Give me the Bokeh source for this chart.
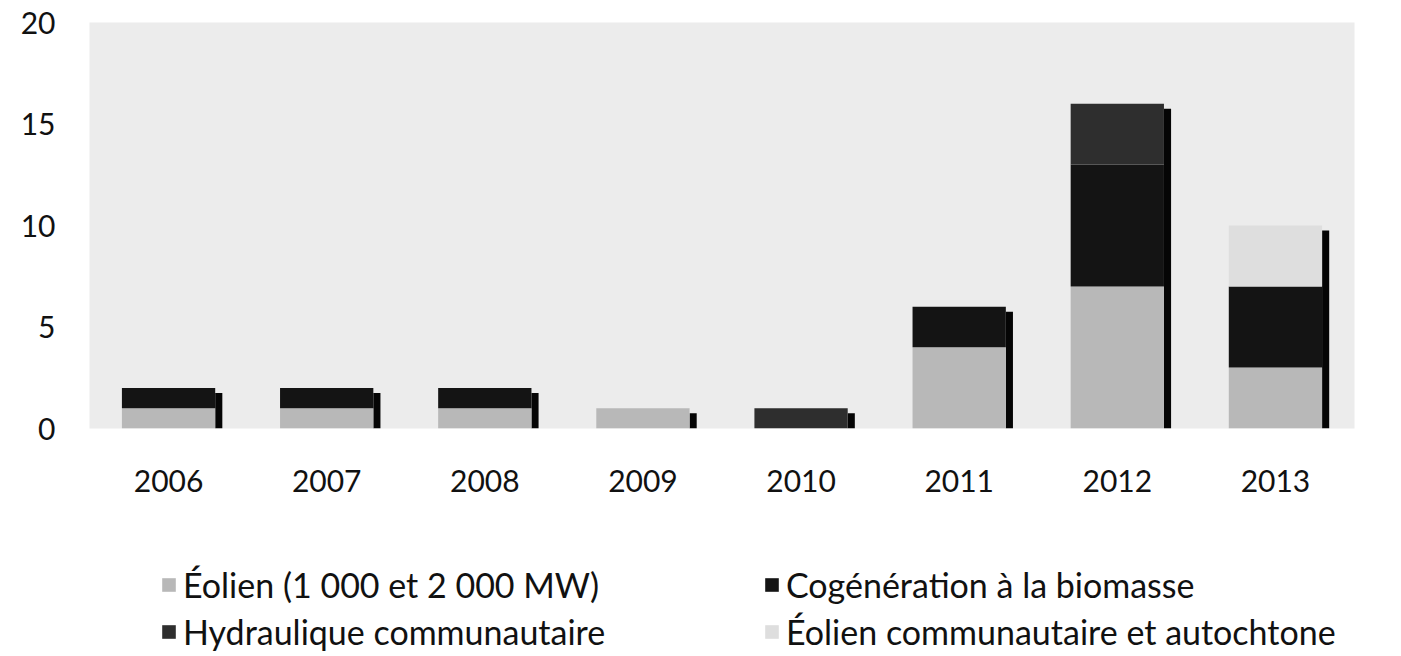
from bokeh.plotting import figure
from bokeh.models import ColumnDataSource, Legend, LegendItem, FactorRange
from bokeh.layouts import column
from bokeh.transform import dodge
from bokeh.embed import file_html
from bokeh.resources import INLINE

years = ["2006", "2007", "2008", "2009", "2010", "2011", "2012", "2013"]
eolien = [1, 1, 1, 1, 0, 4, 7, 3]
cogeneration = [1, 1, 1, 0, 0, 2, 6, 4]
hydraulique = [0, 0, 0, 0, 1, 0, 3, 0]
eolien_comm = [0, 0, 0, 0, 0, 0, 0, 3]

series_names = ["Éolien (1 000 et 2 000 MW)", "Cogénération à la biomasse",
                "Hydraulique communautaire", "Éolien communautaire et autochtone"]
series_keys = ["eolien", "cogen", "hydro", "eolcomm"]
colors = ["#b8b8b8", "#141414", "#2e2e2e", "#dedede"]

data = {"years": years, "eolien": eolien, "cogen": cogeneration,
        "hydro": hydraulique, "eolcomm": eolien_comm}
totals = [a + b + c + d for a, b, c, d in zip(eolien, cogeneration, hydraulique, eolien_comm)]
data["shadow_top"] = [t - 0.25 if t > 0 else 0 for t in totals]
source = ColumnDataSource(data)

FONT = "Lato"
W = 1385

p = figure(x_range=FactorRange(*years), y_range=(0, 20),
           width=W, height=520, output_backend="svg", toolbar_location=None,
           min_border_left=89, min_border_right=31, min_border_top=22,
           min_border_bottom=92)
p.frame_align = False
p.background_fill_color = "#ececec"
p.border_fill_color = "white"
p.outline_line_color = None
p.xgrid.grid_line_color = None
p.ygrid.grid_line_color = None
p.x_range.range_padding = 0

# shadow bars
p.vbar(x=dodge("years", 0.3175, range=p.x_range), top="shadow_top", bottom=0,
       width=0.045, source=source, fill_color="#050505", line_color=None)

p.vbar_stack(series_keys, x="years", width=0.59, source=source,
             color=colors, line_color=None)

p.yaxis.ticker = [0, 5, 10, 15, 20]
for ax in (p.xaxis[0], p.yaxis[0]):
    ax.axis_line_color = None
    ax.major_tick_line_color = None
    ax.minor_tick_line_color = None
    ax.major_tick_out = 0
    ax.minor_tick_out = 0
    ax.major_label_text_font = FONT
    ax.major_label_text_font_size = "30px"
    ax.major_label_text_color = "#111111"
p.yaxis.major_label_standoff = 34
p.xaxis.major_label_standoff = 41

# legend panel (separate figure so the legend is not clipped by the chart frame)
q = figure(x_range=FactorRange(*years), y_range=(100, 200),
           width=W, height=136, output_backend="svg", toolbar_location=None,
           x_axis_type=None, y_axis_type=None,
           min_border_left=0, min_border_right=0, min_border_top=0, min_border_bottom=0)
q.frame_align = False
q.outline_line_color = None
q.xgrid.grid_line_color = None
q.ygrid.grid_line_color = None
q.background_fill_color = "white"
q.border_fill_color = "white"
leg_renderers = q.vbar_stack(series_keys, x="years", width=0.59, source=source,
                             color=colors, line_color=None)

by_key = dict(zip(series_keys, zip(series_names, leg_renderers)))
# legend fills column by column: 2 rows x 2 columns
order = ["eolien", "hydro", "cogen", "eolcomm"]
items = [LegendItem(label=by_key[k][0], renderers=[by_key[k][1]]) for k in order]
legend = Legend(items=items, ncols=2, location=(160, 4),
                glyph_width=17, glyph_height=17, label_standoff=6,
                label_width=574, label_height=40, spacing=6, padding=0, margin=0,
                label_text_font=FONT, label_text_font_size="34px",
                label_text_color="#111111",
                border_line_color=None, background_fill_alpha=0)
q.add_layout(legend, "center")

layout = column(p, q, spacing=0)
open("out.html", "w").write(file_html(layout, INLINE))
